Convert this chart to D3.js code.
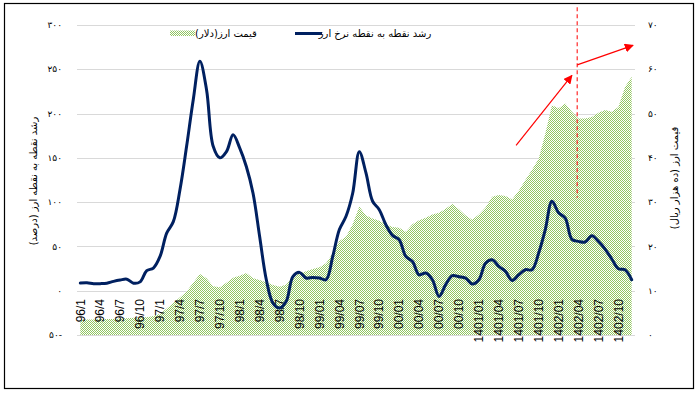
<!DOCTYPE html>
<html>
<head>
<meta charset="utf-8">
<script src="https://cdn.jsdelivr.net/npm/d3@7"></script>
<style>
  body { margin: 0; background: #fff; }
  svg { display: block; }
</style>
</head>
<body>
<svg width="698" height="393"></svg>
<script>
// monthly growth of the exchange rate (%), 96/1 .. 1402/12
const growth = [
  8.7, 9, 8, 8, 8.5, 10.5, 12, 13, 8.5, 10,
  22.6, 25.6, 38.7, 65, 78, 114, 163, 215.6, 259, 227,
  163, 150, 157, 176, 161, 140, 110, 61, 12.4, -14,
  -19.6, -12, 16, 20.7, 14.3, 15, 14.3, 12.4, 38.7, 69,
  84, 110, 157, 133, 101, 91.5, 74.5, 62.5, 57.6, 38.7,
  33, 18, 20, 12.4, -6.4, 6.8, 17, 15.8, 14.3, 7.5,
  12.4, 31, 35, 27.4, 21.8, 11.6, 18, 23.7, 23.7, 42.5,
  69, 101, 88, 82, 58, 55.7, 55, 62, 55.7, 47,
  35.8, 24.8, 23.7, 12.4
];

// dollar price (ten thousand rials)
const price = [
  3.5, 3.5, 3.5, 3.6, 3.6, 3.6, 3.7, 3.8, 3.9, 4.0,
  4.0, 4.3, 4.8, 6.0, 7.2, 8.5, 9.8, 11.8, 13.8, 12.8,
  11.0, 10.8, 11.8, 12.9, 13.4, 14.0, 12.8, 12.4, 11.9, 11.3,
  10.9, 11.4, 13.2, 13.9, 14.4, 14.9, 15.3, 16.2, 18.5, 21.2,
  22.2, 25, 29, 27, 26.3, 25.8, 25, 24.4, 24.2, 23.3,
  25, 25.9, 26.5, 27.2, 27.6, 28.5, 29.6, 28.4, 27, 26,
  27.2, 28.8, 31.2, 31.6, 31.4, 30.6, 32.6, 35, 37.3, 39.8,
  45.5, 51.9, 51.2, 52.3, 50.4, 48.9, 48.9, 49.2, 50.2, 50.8,
  50.4, 51.5, 56, 58.3
];

// every third month gets a label
const tickLabels = [
  "96/1", "96/4", "96/7", "96/10", "97/1", "97/4", "97/7", "97/10",
  "98/1", "98/4", "98/7", "98/10", "99/01", "99/04", "99/07", "99/10",
  "00/01", "00/04", "00/07", "00/10", "1401/01", "1401/04", "1401/07", "1401/10",
  "1402/01", "1402/04", "1402/07", "1402/10"
];

const leftTicks = [300, 250, 200, 150, 100, 50, 0, -50];
const leftTickText = ["۳۰۰", "۲۵۰", "۲۰۰", "۱۵۰", "۱۰۰", "۵۰", "۰", "۵۰-"];
const rightTicks = [70, 60, 50, 40, 30, 20, 10, 0];
const rightTickText = ["۷۰", "۶۰", "۵۰", "۴۰", "۳۰", "۲۰", "۱۰", "۰"];

// red annotation: dashed marker + two arrows (month index, left-axis value)
const markerLine = [[74.8, 320], [74.8, 105]];
const arrows = [
  [[65.6, 164], [74.0, 243]],
  [[74.8, 255], [83.2, 277]]
];

const persian = "'DejaVu Sans', sans-serif";

const svg = d3.select("svg");

const plot = {left: 77, right: 635, top: 25, bottom: 335};

const x = d3.scaleLinear()
    .domain([-0.5, growth.length - 0.5])
    .range([plot.left, plot.right]);

const yL = d3.scaleLinear()
    .domain([-50, 300])
    .range([plot.bottom, plot.top]);

const yR = d3.scaleLinear()
    .domain([0, 70])
    .range([plot.bottom, plot.top]);

// chart border
svg.append("rect")
    .attr("x", 4.5).attr("y", 3.5)
    .attr("width", 689).attr("height", 385)
    .attr("fill", "#fff")
    .attr("stroke", "#000")
    .attr("stroke-width", 1.2);

// checker pattern for the area
const defs = svg.append("defs");
const pat = defs.append("pattern")
    .attr("id", "checker")
    .attr("width", 2).attr("height", 2)
    .attr("patternUnits", "userSpaceOnUse");
pat.append("rect").attr("width", 2).attr("height", 2).attr("fill", "#fff");
pat.append("rect").attr("x", 0).attr("y", 0).attr("width", 1).attr("height", 1).attr("fill", "#92c661");
pat.append("rect").attr("x", 1).attr("y", 1).attr("width", 1).attr("height", 1).attr("fill", "#92c661");

// gridlines
svg.append("g")
    .selectAll("line").data(leftTicks)
    .enter().append("line")
    .attr("x1", plot.left).attr("x2", plot.right)
    .attr("y1", d => Math.round(yL(d)) + 0.5)
    .attr("y2", d => Math.round(yL(d)) + 0.5)
    .attr("stroke", "#d9d9d9")
    .attr("stroke-width", 1);

// price area
const area = d3.area()
    .x((d, i) => x(i))
    .y0(yR(0))
    .y1(d => yR(d));

svg.append("path")
    .datum(price)
    .attr("d", area)
    .attr("fill", "url(#checker)");

// x tick labels
svg.append("g")
    .selectAll("text").data(tickLabels)
    .enter().append("text")
    .attr("transform", (d, i) => `translate(${x(i * 3)}, 299) rotate(-90)`)
    .attr("dy", "0.35em")
    .attr("text-anchor", "end")
    .attr("font-family", "'Liberation Sans', Arial, sans-serif")
    .attr("font-size", "12px")
    .attr("fill", "#000")
    .text(d => d);

// growth line
const line = d3.line()
    .x((d, i) => x(i))
    .y(d => yL(d))
    .curve(d3.curveCatmullRom.alpha(0.5));

svg.append("path")
    .datum(growth)
    .attr("d", line)
    .attr("fill", "none")
    .attr("stroke", "#002060")
    .attr("stroke-width", 3)
    .attr("stroke-linejoin", "round")
    .attr("stroke-linecap", "round");

// left ticks
svg.append("g")
    .selectAll("text").data(leftTicks)
    .enter().append("text")
    .attr("x", 62)
    .attr("y", d => yL(d))
    .attr("dy", "0.35em")
    .attr("text-anchor", "end")
    .attr("font-family", persian)
    .attr("font-size", "9px")
    .text((d, i) => leftTickText[i]);

// right ticks
svg.append("g")
    .selectAll("text").data(rightTicks)
    .enter().append("text")
    .attr("x", 648)
    .attr("y", d => yR(d))
    .attr("dy", "0.35em")
    .attr("text-anchor", "start")
    .attr("font-family", persian)
    .attr("font-size", "9px")
    .text((d, i) => rightTickText[i]);

// axis titles
svg.append("text")
    .attr("transform", "translate(33, 181) rotate(-90)")
    .attr("dy", "0.35em")
    .attr("text-anchor", "middle")
    .style("direction", "rtl")
    .attr("font-family", persian)
    .attr("font-size", "10px")
    .text("رشد نقطه به نقطه ارز (درصد)");

svg.append("text")
    .attr("transform", "translate(674, 178) rotate(-90)")
    .attr("dy", "0.35em")
    .attr("text-anchor", "middle")
    .style("direction", "rtl")
    .attr("font-family", persian)
    .attr("font-size", "10px")
    .text("قیمت ارز (ده هزار ریال)");

// legend
svg.append("rect")
    .attr("x", 170).attr("y", 30.5)
    .attr("width", 25).attr("height", 5.5)
    .attr("fill", "url(#checker)");
svg.append("text")
    .attr("x", 226).attr("y", 33)
    .attr("dy", "0.35em")
    .attr("text-anchor", "middle")
    .style("direction", "rtl")
    .attr("font-family", persian)
    .attr("font-size", "10px")
    .text("قیمت ارز(دلار)");

svg.append("line")
    .attr("x1", 295).attr("x2", 322)
    .attr("y1", 33.5).attr("y2", 33.5)
    .attr("stroke", "#002060")
    .attr("stroke-width", 3);
svg.append("text")
    .attr("x", 375).attr("y", 33)
    .attr("dy", "0.35em")
    .attr("text-anchor", "middle")
    .style("direction", "rtl")
    .attr("font-family", persian)
    .attr("font-size", "10px")
    .text("رشد نقطه به نقطه نرخ ارز");

// red annotations
defs.append("marker")
    .attr("id", "arrow")
    .attr("viewBox", "0 0 10 10")
    .attr("refX", 9).attr("refY", 5)
    .attr("markerWidth", 9).attr("markerHeight", 9)
    .attr("markerUnits", "userSpaceOnUse")
    .attr("orient", "auto")
    .append("path")
    .attr("d", "M0,0 L10,5 L0,10 z")
    .attr("fill", "#ff0000");

svg.append("line")
    .attr("x1", x(markerLine[0][0])).attr("y1", yL(markerLine[0][1]))
    .attr("x2", x(markerLine[1][0])).attr("y2", yL(markerLine[1][1]))
    .attr("stroke", "#ff2a2a")
    .attr("stroke-width", 1.2)
    .attr("stroke-dasharray", "4,3");

svg.append("g")
    .selectAll("line").data(arrows)
    .enter().append("line")
    .attr("x1", d => x(d[0][0])).attr("y1", d => yL(d[0][1]))
    .attr("x2", d => x(d[1][0])).attr("y2", d => yL(d[1][1]))
    .attr("stroke", "#ff0000")
    .attr("stroke-width", 1.2)
    .attr("marker-end", "url(#arrow)");
</script>
</body>
</html>
